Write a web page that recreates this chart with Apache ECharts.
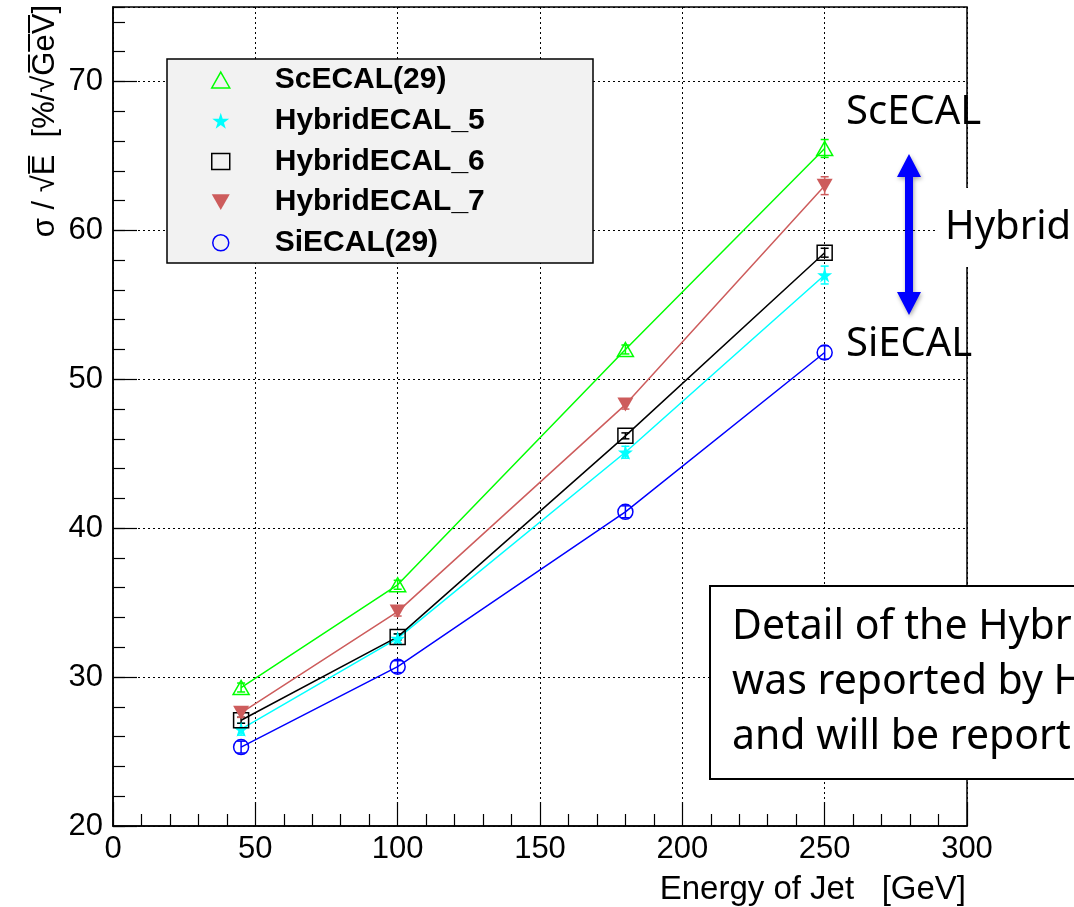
<!DOCTYPE html>
<html><head><meta charset="utf-8">
<script src="https://cdn.jsdelivr.net/npm/echarts@6/dist/echarts.min.js"></script>
<style>html,body{margin:0;padding:0;background:#fff}#c{width:1074px;height:907px}</style>
</head><body><div id="c"></div>
<script>
// ---- data ----
const energies = [45, 100, 180, 250];
const seriesNames = ['ScECAL(29)', 'HybridECAL_5', 'HybridECAL_6', 'HybridECAL_7', 'SiECAL(29)'];
const scecal  = [29.3, 36.2, 52.0, 65.5];
const hybrid5 = [26.5, 32.6, 45.1, 57.0];
const hybrid6 = [27.1, 32.7, 46.2, 58.5];
const hybrid7 = [27.6, 34.4, 48.3, 63.0];
const siecal  = [25.3, 30.7, 41.1, 51.8];
const errSc = [0.3, 0.3, 0.3, 0.6];
const errH5 = [0.4, 0.3, 0.4, 0.6];
const errH6 = [0.2, 0.2, 0.2, 0.3];
const errH7 = [0.3, 0.3, 0.3, 0.6];
const errSi = [0.4, 0.4, 0.4, 0.45];
const xTicks = [0, 50, 100, 150, 200, 250, 300];
const yTicks = [20, 30, 40, 50, 60, 70];
const yMax = 75;
const yMinorStep = 2;
const xTitle = 'Energy of Jet   [GeV]';
const yTitle = 'σ / √E\u0305  [%/√G\u0305e\u0305V\u0305]';
const boxLines = ['Detail of the Hybr', 'was reported by H', 'and will be report'];

// ---- styling ----
const values = [scecal, hybrid5, hybrid6, hybrid7, siecal];
const errs = [errSc, errH5, errH6, errH7, errSi];
const colors = ['#00ff00', '#00ffff', '#000000', '#cd5c5c', '#0000ff'];
const STAR = 'path://M50,0 L61,35 L98,35 L68,57 L79,91 L50,70 L21,91 L32,57 L2,35 L39,35 Z';
const DOWN = 'path://M0,0 L100,0 L50,88 Z';
const UP = 'path://M50,0 L100,88 L0,88 Z';
const symbols = [UP, STAR, 'rect', DOWN, 'circle'];
const sizes = [[16, 14], [15, 15], [15, 15], [16, 14], [15, 15]];
const hollow = [true, false, true, false, true];

function itemStyleFor(i) {
  return hollow[i]
    ? { color: 'rgba(0,0,0,0)', borderColor: colors[i], borderWidth: 1.5 }
    : { color: colors[i], borderWidth: 0 };
}

const lineSeries = seriesNames.map((n, i) => ({
  type: 'line', name: n,
  data: energies.map((x, j) => [x, values[i][j]]),
  symbol: symbols[i], symbolSize: sizes[i], symbolKeepAspect: false,
  itemStyle: itemStyleFor(i),
  lineStyle: { color: colors[i], width: 1.5 },
  z: 4, silent: true, emphasis: { disabled: true }
}));

const errSeries = seriesNames.map((n, i) => ({
  type: 'custom', name: 'err' + i,
  data: energies.map((x, j) => [x, values[i][j], errs[i][j]]),
  renderItem: (params, api) => {
    const x = api.value(0), y = api.value(1), e = api.value(2);
    const t = api.coord([x, y + e]), b = api.coord([x, y - e]);
    const c = 4, st = { stroke: colors[i], lineWidth: 1.5 };
    return { type: 'group', children: [
      { type: 'line', shape: { x1: t[0], y1: t[1], x2: b[0], y2: b[1] }, style: st },
      { type: 'line', shape: { x1: t[0] - c, y1: t[1], x2: t[0] + c, y2: t[1] }, style: st },
      { type: 'line', shape: { x1: b[0] - c, y1: b[1], x2: b[0] + c, y2: b[1] }, style: st }
    ]};
  },
  z: 3, silent: true
}));

const chart = echarts.init(document.getElementById('c'), null, { renderer: 'canvas' });
const tickFont = { fontFamily: 'Liberation Sans', fontSize: 31, color: '#000' };
const dotted = { color: '#000', width: 1, type: [2, 3] };

chart.setOption({
  animation: false,
  backgroundColor: '#fff',
  grid: { left: 113, right: 107, top: 7, bottom: 81, show: true, borderColor: '#000', borderWidth: 1.5,
          backgroundColor: 'rgba(0,0,0,0)', containLabel: false, outerBoundsMode: 'none' },
  xAxis: {
    type: 'value', min: xTicks[0], max: xTicks[xTicks.length - 1], interval: xTicks[1] - xTicks[0],
    axisLine: { show: true, lineStyle: { color: '#000', width: 1.5 } },
    axisTick: { show: true, inside: true, length: 24, lineStyle: { color: '#000', width: 1.2 } },
    minorTick: { show: true, splitNumber: 5, length: 12, lineStyle: { color: '#000', width: 1.2 } },
    axisLabel: Object.assign({ margin: 8 }, tickFont),
    splitLine: { show: true, lineStyle: dotted }
  },
  yAxis: [{
    type: 'value', min: yTicks[0], max: yMax, interval: yTicks[1] - yTicks[0], position: 'left',
    axisLine: { show: true, lineStyle: { color: '#000', width: 1.5 } },
    axisTick: { show: true, inside: true, length: 24, lineStyle: { color: '#000', width: 1.2 } },
    axisLabel: Object.assign({ margin: 10, showMaxLabel: false }, tickFont),
    splitLine: { show: true, lineStyle: dotted }
  }, {
    type: 'value', min: yTicks[0], max: yMax, interval: yMinorStep, position: 'left',
    axisLine: { show: false },
    axisTick: { show: true, inside: true, length: 12, lineStyle: { color: '#000', width: 1.2 } },
    axisLabel: { show: false }, splitLine: { show: false }
  }],
  legend: {
    orient: 'vertical', left: 211, top: 65, padding: 0, itemWidth: 18, itemHeight: 16, itemGap: 10.7,
    selectedMode: false, z: 10,
    data: seriesNames.map((n, i) => ({ name: n, icon: symbols[i], itemStyle: itemStyleFor(i) })),
    textStyle: { fontFamily: 'Liberation Sans', fontWeight: 'bold', fontSize: 30, color: '#000',
                 lineHeight: 30, padding: [0, 0, 0, 40] }
  },
  graphic: [
    { type: 'rect', z: 3, shape: { x: 167, y: 59, width: 426, height: 204 },
      style: { fill: '#f2f2f2', stroke: '#000', lineWidth: 1.5 } },
    { type: 'text', z: 20, x: 45, y: 5, rotation: Math.PI / 2,
      style: { text: yTitle, font: '31px "Liberation Sans"', fill: '#000', align: 'right', verticalAlign: 'middle' } },
    { type: 'text', z: 20, x: 966, y: 890,
      style: { text: xTitle, font: '33px "Liberation Sans"', fill: '#000', align: 'right', verticalAlign: 'middle' } },
    { type: 'text', z: 20, x: 846, y: 113,
      style: { text: 'ScECAL', font: '40px "Noto Sans"', fill: '#000', align: 'left', verticalAlign: 'middle' } },
    { type: 'text', z: 20, x: 846, y: 345,
      style: { text: 'SiECAL', font: '40px "Noto Sans"', fill: '#000', align: 'left', verticalAlign: 'middle' } },
    { type: 'rect', z: 19, shape: { x: 935, y: 188, width: 139, height: 79 }, style: { fill: '#fff' } },
    { type: 'text', z: 20, x: 945, y: 228,
      style: { text: 'Hybrid', font: '40px "Noto Sans"', fill: '#000', align: 'left', verticalAlign: 'middle' } },
    { type: 'polygon', z: 20,
      shape: { points: [[909,154],[921,177],[913,177],[913,292],[921,292],[909,315],[897,292],[905,292],[905,177],[897,177]] },
      style: { fill: '#0000ff', shadowBlur: 4, shadowColor: 'rgba(0,0,0,0.35)', shadowOffsetX: 1, shadowOffsetY: 2 } },
    { type: 'rect', z: 19, shape: { x: 710, y: 586, width: 380, height: 193 },
      style: { fill: '#fff', stroke: '#000', lineWidth: 2 } },
    { type: 'text', z: 20, x: 732, y: 600,
      style: { text: boxLines.join('\n'), font: '41px "Noto Sans"', lineHeight: 55, fill: '#000',
               align: 'left', verticalAlign: 'top' } }
  ],
  series: lineSeries.concat(errSeries)
});
</script></body></html>
